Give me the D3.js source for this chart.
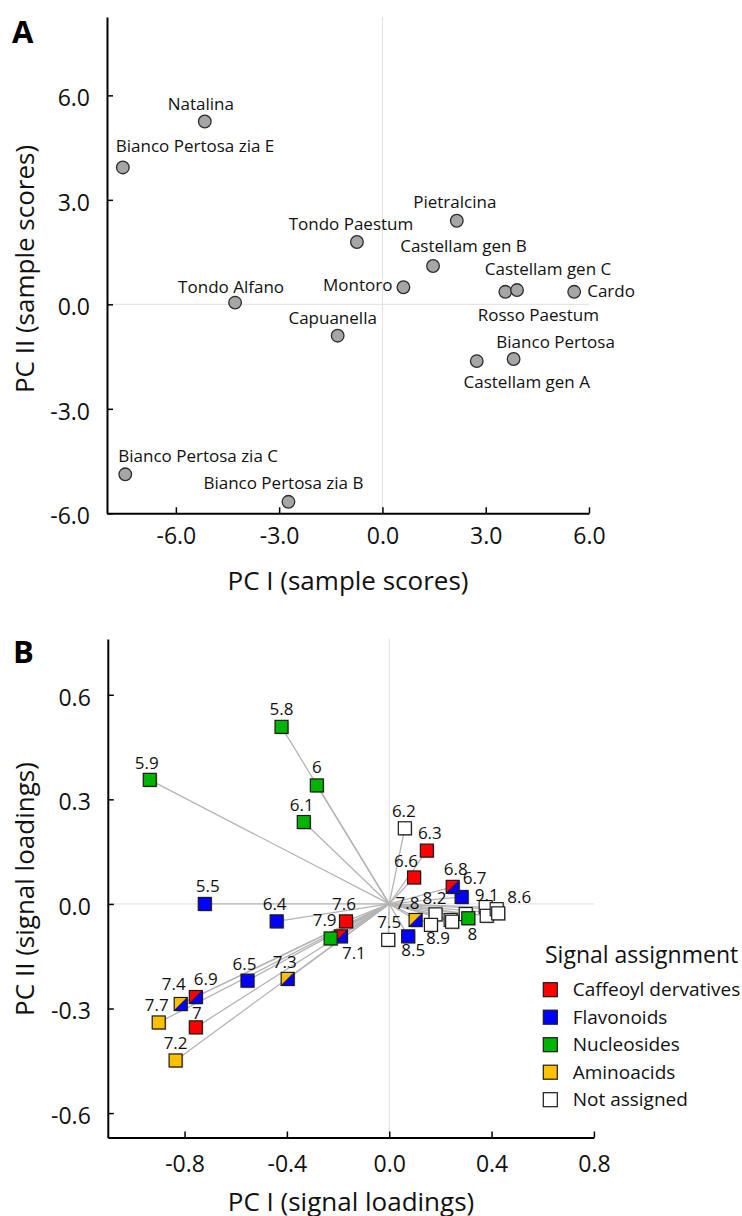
<!DOCTYPE html>
<html>
<head>
<meta charset="utf-8">
<script src="https://cdn.jsdelivr.net/npm/d3@7"></script>
<style>
  html, body { margin: 0; padding: 0; background: #fff; }
  svg { display: block; font-family: "Open Sans", "DejaVu Sans", sans-serif; }
</style>
</head>
<body>
<script>
// ---------------- Panel A data (sample scores) ----------------
const sampleNames = [
  "Natalina", "Bianco Pertosa zia E", "Tondo Paestum", "Tondo Alfano", "Montoro",
  "Pietralcina", "Castellam gen B", "Rosso Paestum", "Castellam gen C", "Cardo",
  "Capuanella", "Castellam gen A", "Bianco Pertosa", "Bianco Pertosa zia C", "Bianco Pertosa zia B"
];
const samplePC1 = [-5.16, -7.54, -0.74, -4.28, 0.61, 2.16, 1.47, 3.57, 3.91, 5.57, -1.30, 2.74, 3.81, -7.47, -2.73];
const samplePC2 = [5.25, 3.93, 1.79, 0.05, 0.49, 2.40, 1.10, 0.36, 0.41, 0.36, -0.90, -1.63, -1.57, -4.88, -5.67];
const scoreTicks = [-6, -3, 0, 3, 6];
const scoreTickLabels = ["-6.0", "-3.0", "0.0", "3.0", "6.0"];

// ---------------- Panel B data (signal loadings) ----------------
const signalLabels = [
  "5.5", "5.8", "5.9", "6", "6.1", "6.2", "6.3", "6.4", "6.5", "6.6",
  "6.7", "6.8", "6.9", "7", "7.1", "7.2", "7.3", "7.4", "7.5", "7.6",
  "7.7", "7.8", "7.9", "8.2", "8.9", "", "", "", "8",
  "9.1", "", "8.6", "", "8.5"
];
const signalPC1 = [
  -0.721, -0.421, -0.936, -0.283, -0.334, 0.061, 0.147, -0.440, -0.554, 0.097,
  0.283, 0.248, -0.756, -0.756, -0.189, -0.835, -0.397, -0.815, -0.004, -0.169,
  -0.901, 0.103, -0.229, 0.181, 0.163, 0.240, 0.246, 0.299, 0.309,
  0.377, 0.381, 0.420, 0.426, 0.074
];
const signalPC2 = [
  0.000, 0.508, 0.356, 0.340, 0.235, 0.217, 0.153, -0.050, -0.220, 0.076,
  0.020, 0.049, -0.267, -0.354, -0.093, -0.449, -0.215, -0.287, -0.103, -0.050,
  -0.340, -0.046, -0.099, -0.030, -0.060, -0.046, -0.051, -0.029, -0.041,
  -0.009, -0.034, -0.015, -0.027, -0.093
];
// primary / secondary assignment (secondary = null when single)
const signalClass = [
  "Flavonoids", "Nucleosides", "Nucleosides", "Nucleosides", "Nucleosides", "Not assigned", "Caffeoyl dervatives", "Flavonoids", "Flavonoids", "Caffeoyl dervatives",
  "Flavonoids", "Caffeoyl dervatives", "Caffeoyl dervatives", "Caffeoyl dervatives", "Caffeoyl dervatives", "Aminoacids", "Aminoacids", "Aminoacids", "Not assigned", "Caffeoyl dervatives",
  "Aminoacids", "Aminoacids", "Nucleosides", "Not assigned", "Not assigned", "Not assigned", "Not assigned", "Not assigned", "Nucleosides",
  "Not assigned", "Not assigned", "Not assigned", "Not assigned", "Flavonoids"
];
const signalClass2 = [
  null, null, null, null, null, null, null, null, null, null,
  null, "Flavonoids", "Flavonoids", null, "Flavonoids", null, "Flavonoids", "Flavonoids", null, null,
  null, "Flavonoids", null, null, null, null, null, null, null,
  null, null, null, null, null
];
const loadingXTicks = [-0.8, -0.4, 0, 0.4, 0.8];
const loadingXTickLabels = ["-0.8", "-0.4", "0.0", "0.4", "0.8"];
const loadingYTicks = [-0.6, -0.3, 0, 0.3, 0.6];
const loadingYTickLabels = ["-0.6", "-0.3", "0.0", "0.3", "0.6"];

const legendTitle = "Signal assignment";
const legendCategories = ["Caffeoyl dervatives", "Flavonoids", "Nucleosides", "Aminoacids", "Not assigned"];
const legendColors = ["#ff0000", "#0000ff", "#00b400", "#ffc000", "#ffffff"];

// ---------------- Label placement (layout only) ----------------
const sampleLabelPlace = {
  "Natalina": [-4, -11, "middle"],
  "Bianco Pertosa zia E": [-7, -15, "start"],
  "Tondo Paestum": [-6, -12, "middle"],
  "Tondo Alfano": [-4, -10, "middle"],
  "Montoro": [-11, 4, "end"],
  "Pietralcina": [-2, -12.4, "middle"],
  "Castellam gen B": [30.5, -14.3, "middle"],
  "Castellam gen C": [31, -15, "middle"],
  "Cardo": [13, 5, "start"],
  "Rosso Paestum": [33, 29, "middle"],
  "Capuanella": [-5, -11.4, "middle"],
  "Castellam gen A": [50, 27, "middle"],
  "Bianco Pertosa": [42, -10.7, "middle"],
  "Bianco Pertosa zia C": [-7, -12.3, "start"],
  "Bianco Pertosa zia B": [-5, -12.7, "middle"]
};
const signalLabelPlace = {
  "5.5": [3, -12, "middle"], "5.8": [0, -12, "middle"], "5.9": [-3, -11, "middle"],
  "6": [0, -12, "middle"], "6.1": [-2, -11, "middle"], "6.2": [-1, -11.6, "middle"],
  "6.3": [3, -11.4, "middle"], "6.4": [-2, -11.7, "middle"], "6.5": [-3, -11, "middle"],
  "6.6": [-8, -10, "middle"], "6.7": [13, -13.4, "middle"], "6.8": [3, -11.7, "middle"],
  "6.9": [10, -11.6, "middle"], "7": [1, -8.4, "middle"], "7.1": [13, 23, "middle"],
  "7.2": [0, -11, "middle"], "7.3": [-3, -11.3, "middle"], "7.4": [-7, -13.6, "middle"],
  "7.5": [1, -12.3, "middle"], "7.6": [-2, -11.7, "middle"], "7.7": [-2, -11.7, "middle"],
  "7.8": [-8, -11, "middle"], "7.9": [-6, -12, "middle"], "8": [4, 22, "middle"],
  "8.2": [-1, -10.3, "middle"], "8.5": [5, 20, "middle"], "8.6": [10.6, -6.6, "start"],
  "8.9": [7, 19, "middle"], "9.1": [1, -5.6, "middle"]
};

const colorOf = d3.scaleOrdinal().domain(legendCategories).range(legendColors);

// ---------------- SVG ----------------
const svg = d3.select("body").append("svg").attr("width", 742).attr("height", 1216);
const FONT = '"Open Sans", "DejaVu Sans", sans-serif';

function drawAxes(g, x, y, xt, xl, yt, yl, xPad) {
  // zero gridlines
  g.append("line").attr("x1", x(0)).attr("x2", x(0)).attr("y1", y.range()[1]).attr("y2", y.range()[0])
    .attr("stroke", "#e0e0e0").attr("stroke-width", 1);
  g.append("line").attr("x1", x.range()[0]).attr("x2", x.range()[1]).attr("y1", y(0)).attr("y2", y(0))
    .attr("stroke", "#e0e0e0").attr("stroke-width", 1);

  const ax = g.append("g").attr("transform", `translate(0,${y.range()[0]})`)
    .call(d3.axisBottom(x).tickValues(xt).tickFormat((d, i) => xl[i]).tickSizeInner(-6).tickSizeOuter(0).tickPadding(xPad));
  const ay = g.append("g").attr("transform", `translate(${x.range()[0]},0)`)
    .call(d3.axisLeft(y).tickValues(yt).tickFormat((d, i) => yl[i]).tickSizeInner(-6).tickSizeOuter(0).tickPadding(17));
  [ax, ay].forEach(a => {
    a.select(".domain").attr("stroke", "#000").attr("stroke-width", 2);
    a.selectAll(".tick line").attr("stroke", "#000").attr("stroke-width", 1.5);
    a.selectAll(".tick text").attr("font-family", FONT).attr("font-size", 23).attr("fill", "#111");
  });
  ay.selectAll(".tick text").attr("dy", "0.45em");
}

// ================= Panel A =================
const gA = svg.append("g");
const xA = d3.scaleLinear().domain([-8, 6]).range([107, 589]);
const yA = d3.scaleLinear().domain([-6, 8.25]).range([513.3, 17]);
drawAxes(gA, xA, yA, scoreTicks, scoreTickLabels, scoreTicks, scoreTickLabels, 14);

const samples = sampleNames.map((n, i) => ({ name: n, x: samplePC1[i], y: samplePC2[i] }));
gA.append("g").selectAll("circle").data(samples).join("circle")
  .attr("cx", d => xA(d.x)).attr("cy", d => yA(d.y)).attr("r", 6.3)
  .attr("fill", "#a6a6a6").attr("stroke", "#2b2b2b").attr("stroke-width", 1.3);
gA.append("g").selectAll("text").data(samples).join("text")
  .attr("x", d => xA(d.x) + sampleLabelPlace[d.name][0])
  .attr("y", d => yA(d.y) + sampleLabelPlace[d.name][1])
  .attr("text-anchor", d => sampleLabelPlace[d.name][2])
  .attr("font-family", FONT).attr("font-size", 17).attr("fill", "#111")
  .text(d => d.name);

gA.append("text").attr("transform", "translate(33.5,269) rotate(-90)").attr("text-anchor", "middle")
  .attr("font-family", FONT).attr("font-size", 26).attr("fill", "#111").text("PC II (sample scores)");
gA.append("text").attr("x", 348).attr("y", 590).attr("text-anchor", "middle")
  .attr("font-family", FONT).attr("font-size", 26).attr("fill", "#111").text("PC I (sample scores)");
gA.append("text").attr("x", 12).attr("y", 42.7).attr("font-family", FONT).attr("font-weight", "bold")
  .attr("font-size", 31).attr("fill", "#000").text("A");

// ================= Panel B =================
const gB = svg.append("g");
const xB = d3.scaleLinear().domain([-1.1, 0.8]).range([107.8, 593.9]);
const yB = d3.scaleLinear().domain([-0.67, 0.76]).range([1137.5, 639]);
drawAxes(gB, xB, yB, loadingXTicks, loadingXTickLabels, loadingYTicks, loadingYTickLabels, 18);

const signals = signalLabels.map((l, i) => ({ label: l, x: signalPC1[i], y: signalPC2[i], c1: signalClass[i], c2: signalClass2[i] }));

// vectors from origin
gB.append("g").selectAll("line").data(signals).join("line")
  .attr("x1", xB(0)).attr("y1", yB(0))
  .attr("x2", d => xB(d.x)).attr("y2", d => yB(d.y))
  .attr("stroke", "#b4b4b4").attr("stroke-width", 1.3);

const S = 13, h = S / 2;
const marks = gB.append("g").selectAll("g").data(signals).join("g")
  .attr("transform", d => `translate(${xB(d.x)},${yB(d.y)})`);
marks.append("rect").attr("x", -h + 1.2).attr("y", -h + 1.2).attr("width", S).attr("height", S)
  .attr("fill", "#000").attr("opacity", 0.22);
marks.append("rect").attr("x", -h).attr("y", -h).attr("width", S).attr("height", S)
  .attr("fill", d => colorOf(d.c1));
marks.filter(d => d.c2).append("path")
  .attr("d", `M${h},${-h}L${h},${h}L${-h},${h}Z`)
  .attr("fill", d => colorOf(d.c2));
marks.filter(d => d.c2).append("line")
  .attr("x1", -h).attr("y1", h).attr("x2", h).attr("y2", -h)
  .attr("stroke", "#1a1a1a").attr("stroke-width", 0.9);
marks.append("rect").attr("x", -h).attr("y", -h).attr("width", S).attr("height", S)
  .attr("fill", "none").attr("stroke", "#1a1a1a").attr("stroke-width", 1.2);

gB.append("g").selectAll("text").data(signals.filter(d => d.label !== "")).join("text")
  .attr("x", d => xB(d.x) + signalLabelPlace[d.label][0])
  .attr("y", d => yB(d.y) + signalLabelPlace[d.label][1])
  .attr("text-anchor", d => signalLabelPlace[d.label][2])
  .attr("font-family", FONT).attr("font-size", 17).attr("fill", "#111")
  .text(d => d.label);

gB.append("text").attr("transform", "translate(33.5,889) rotate(-90)").attr("text-anchor", "middle")
  .attr("font-family", FONT).attr("font-size", 26).attr("fill", "#111").text("PC II (signal loadings)");
gB.append("text").attr("x", 351).attr("y", 1211).attr("text-anchor", "middle")
  .attr("font-family", FONT).attr("font-size", 26).attr("fill", "#111").text("PC I (signal loadings)");
gB.append("text").attr("x", 13).attr("y", 663.3).attr("font-family", FONT).attr("font-weight", "bold")
  .attr("font-size", 31).attr("fill", "#000").text("B");

// legend
const lg = gB.append("g");
lg.append("text").attr("x", 545).attr("y", 962.7).attr("font-family", FONT).attr("font-size", 23)
  .attr("fill", "#111").text(legendTitle);
const rowY = d3.scalePoint().domain(legendCategories).range([989.7, 1099.7]);
const rows = lg.selectAll("g.row").data(legendCategories).join("g").attr("class", "row")
  .attr("transform", d => `translate(543.3,${rowY(d)})`);
rows.append("rect").attr("x", 0).attr("y", -7).attr("width", 14).attr("height", 14)
  .attr("fill", d => colorOf(d)).attr("stroke", "#1a1a1a").attr("stroke-width", 1.2);
rows.append("text").attr("x", 29.4).attr("y", 6.6).attr("font-family", FONT).attr("font-size", 19)
  .attr("fill", "#111").text(d => d);
</script>
</body>
</html>
